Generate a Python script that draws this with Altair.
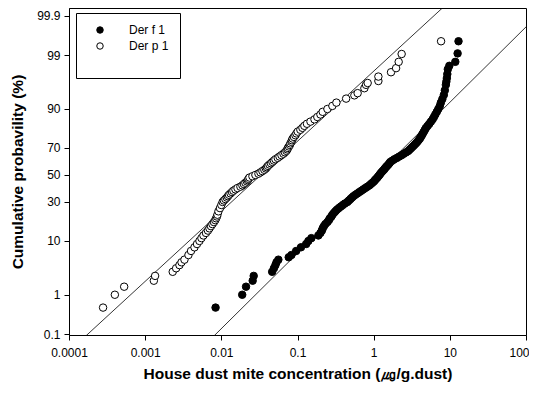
import math
import altair as alt
import pandas as pd

# (cumulative probability %, concentration ug/g dust)
DER_F1 = [
    (0.5, 0.0084), (1.0, 0.0188), (1.5, 0.0211), (2.0, 0.0258), (2.5, 0.0266),
    (3.0, 0.0465), (3.5, 0.049), (4.0, 0.0513), (4.5, 0.053), (5.0, 0.0561),
    (5.5, 0.0767), (6, 0.0832), (7, 0.0960), (8, 0.111), (9, 0.130), (10, 0.139),
    (11, 0.152), (12, 0.188), (13, 0.200), (14, 0.209), (15, 0.214), (16, 0.222),
    (17, 0.232), (18, 0.247), (19, 0.258), (20, 0.266), (21, 0.279), (22, 0.287),
    (23, 0.300), (24, 0.314), (25, 0.329), (26, 0.349), (27, 0.371), (28, 0.394),
    (29, 0.419), (30, 0.452), (31, 0.473), (32, 0.495), (33, 0.518), (34, 0.542),
    (35, 0.575), (36, 0.611), (37, 0.649), (38, 0.690), (39, 0.733), (40, 0.778),
    (41, 0.826), (42, 0.879), (43, 0.919), (44, 0.962), (45, 1.007), (46, 1.037),
    (47, 1.079), (48, 1.119), (49, 1.153), (50, 1.19), (51, 1.225), (52, 1.262),
    (53, 1.31), (54, 1.361), (55, 1.40), (56, 1.445), (57, 1.50), (58, 1.56),
    (59, 1.61), (60, 1.655), (61, 1.76), (62, 1.87), (63, 2.02), (64, 2.17),
    (65, 2.33), (66, 2.49), (67, 2.67), (68, 2.85), (69, 2.98), (70, 3.12),
    (71, 3.27), (72, 3.42), (73, 3.58), (74, 3.74), (75, 3.89), (76, 4.04),
    (77, 4.16), (78, 4.29), (79, 4.42), (80, 4.56), (81, 4.71), (82, 4.87),
    (83, 5.12), (84, 5.38), (85, 5.65), (86, 5.94), (87, 6.19), (88, 6.45),
    (89, 6.75), (90, 7.06), (91, 7.39), (92, 7.62), (93, 7.98), (94, 8.34),
    (95, 8.60), (96, 8.87), (96.5, 9.0), (97, 9.14), (97.5, 9.27), (98, 9.41),
    (98.3, 9.85), (98.6, 11.8), (99.09, 12.65), (99.53, 13.0),
]

DER_P1 = [
    (0.5, 0.00028), (1.0, 0.00040), (1.5, 0.00053), (2.0, 0.00130), (2.5, 0.00135),
    (3.0, 0.00230), (3.5, 0.00255), (4.0, 0.00282), (4.5, 0.00300), (5, 0.00328),
    (6, 0.0037), (7, 0.0040), (8, 0.00444), (9, 0.00479), (10, 0.00516),
    (11, 0.00548), (12, 0.00582), (13, 0.00628), (14, 0.00667), (15, 0.00698),
    (16, 0.00731), (17, 0.00764), (18, 0.00800), (19, 0.00832), (20, 0.00855),
    (21, 0.00875), (22, 0.00889), (24, 0.00916), (26, 0.00959), (28, 0.0100),
    (30, 0.0104), (31, 0.0108), (32, 0.0113), (33, 0.0118), (34, 0.0122),
    (35, 0.0126), (36, 0.0132), (37, 0.0138), (38, 0.0144), (39, 0.0153),
    (40, 0.0163), (41, 0.0178), (42, 0.0189), (43, 0.0198), (44, 0.0207),
    (45, 0.0217), (46, 0.0223), (47, 0.0227), (48, 0.0234), (49, 0.0256),
    (50, 0.0280), (51, 0.0307), (52, 0.0326), (53, 0.0346), (54, 0.0367),
    (55, 0.0385), (56, 0.0396), (57, 0.0409), (58, 0.0428), (59, 0.0448),
    (60, 0.0469), (61, 0.0490), (62, 0.0513), (63, 0.0550), (64, 0.0580),
    (65, 0.0615), (66, 0.0654), (67, 0.0684), (68, 0.0715), (69, 0.0736),
    (70, 0.0748), (71, 0.0771), (72, 0.0794), (73, 0.0807), (74, 0.0832),
    (75, 0.0845), (76, 0.0865), (77, 0.0897), (78, 0.0938), (79, 0.0968),
    (80, 0.1007), (81, 0.109), (82, 0.116), (83, 0.123), (84, 0.133),
    (85, 0.148), (86, 0.167), (87, 0.182), (88, 0.200), (89, 0.214),
    (90, 0.247), (91, 0.287), (92, 0.324), (93.1, 0.435), (93.9, 0.558),
    (94.4, 0.616), (95.4, 0.755), (96.0, 0.794), (96.3, 0.834), (96.6, 1.153),
    (97.2, 1.153), (97.7, 1.69), (98.1, 1.97), (98.6, 2.13), (99.06, 2.33),
    (99.53, 7.67),
]

SERIES = ["Der f 1", "Der p 1"]

# fitted log-normal reference lines: (concentration, cumulative %)
FIT_DER_P1 = [(0.000126, 0.05), (8.65, 99.95)]
FIT_DER_F1 = [(0.00618, 0.05), (192.0, 99.95)]

Y_TICKS = [0.1, 1, 10, 30, 50, 70, 90, 99, 99.9]
X_TICKS = [0.0001, 0.001, 0.01, 0.1, 1, 10, 100]
X_DOMAIN = [0.0001, 100]
Z_DOMAIN = [-3.108, 3.243]

FONT = "Liberation Sans"


def probit(pct):
    p = pct / 100.0
    lo, hi = -9.0, 9.0
    for _ in range(90):
        mid = (lo + hi) / 2
        if 0.5 * (1 + math.erf(mid / math.sqrt(2))) < p:
            lo = mid
        else:
            hi = mid
    return (lo + hi) / 2


rows = []
for name, pts in ((SERIES[0], DER_F1), (SERIES[1], DER_P1)):
    for i, (pct, c) in enumerate(pts):
        rows.append({"series": name, "conc": c, "z": probit(pct), "idx": i})
pts_df = pd.DataFrame(rows)

fit_rows = []
for name, pts in (("p", FIT_DER_P1), ("f", FIT_DER_F1)):
    for c, pct in pts:
        fit_rows.append({"fit": name, "conc": c, "z": probit(pct)})
fit_df = pd.DataFrame(fit_rows)

tick_z = [probit(v) for v in Y_TICKS]
tick_lab = [f"{v:g}" for v in Y_TICKS]
expr = ""
for i in range(len(tick_z) - 1):
    mid = (tick_z[i] + tick_z[i + 1]) / 2
    expr += f"datum.value < {mid:.4f} ? '{tick_lab[i]}' : "
expr += f"'{tick_lab[-1]}'"

last_x = X_TICKS[-1]
x_enc = alt.X(
    "conc:Q",
    scale=alt.Scale(type="log", domain=X_DOMAIN),
    axis=alt.Axis(
        values=X_TICKS, format=".4~f", labelFlush=False,
        labelAlign={"condition": {"test": f"datum.value >= {last_x}", "value": "right"},
                    "value": "center"},
        labelOffset={"condition": {"test": f"datum.value >= {last_x}", "value": 3},
                     "value": 0},
        title="House dust mite concentration (㎍/g.dust)",
        labelPadding=7, titlePadding=8, titleFontSize=15.5,
    ),
)
y_enc = alt.Y(
    "z:Q",
    scale=alt.Scale(domain=Z_DOMAIN, nice=False, zero=False),
    axis=alt.Axis(values=tick_z, labelExpr=expr, labelFlush=False,
                  title="Cumulative probavility (%)",
                  labelPadding=4, titlePadding=11, titleFontSize=15.5),
)

lines = alt.Chart(fit_df).mark_line(color="black", strokeWidth=0.8, clip=True).encode(
    x=x_enc, y=y_enc, detail="fit:N"
)

points = alt.Chart(pts_df).mark_point(
    shape="circle", filled=True, size=56, stroke="black", strokeWidth=1, opacity=1
).encode(
    x=x_enc,
    y=y_enc,
    fill=alt.Fill(
        "series:N",
        scale=alt.Scale(domain=SERIES, range=["black", "white"]),
        legend=alt.Legend(
            orient="none", legendX=7, legendY=5, columns=1, columnPadding=0,
            title="\u00a0", titleOrient="bottom", titleFontSize=10, titlePadding=5,
            padding=11, strokeColor="black", fillColor="white",
            symbolType="circle", symbolSize=42, symbolStrokeColor="black",
            symbolStrokeWidth=1, symbolOffset=7, labelOffset=23, rowPadding=4,
            labelFont=FONT, labelFontSize=12, labelColor="black",
        ),
    ),
    order="idx:Q",
)

chart = alt.layer(lines, points).properties(
    width=457,
    height=327,
    autosize=alt.AutoSizeParams(type="none"),
    padding={"left": 61, "top": 0, "right": 3, "bottom": 51},
).configure_view(
    stroke="black", strokeWidth=1
).configure_axis(
    grid=False, domainColor="black", tickColor="black", labelColor="black",
    titleColor="black", labelFont=FONT, titleFont=FONT, labelFontSize=12,
    titleFontWeight="bold", tickSize=5, domainWidth=1, tickWidth=1,
)

chart.save("out.html", embed_options={"renderer": "svg", "actions": False})
